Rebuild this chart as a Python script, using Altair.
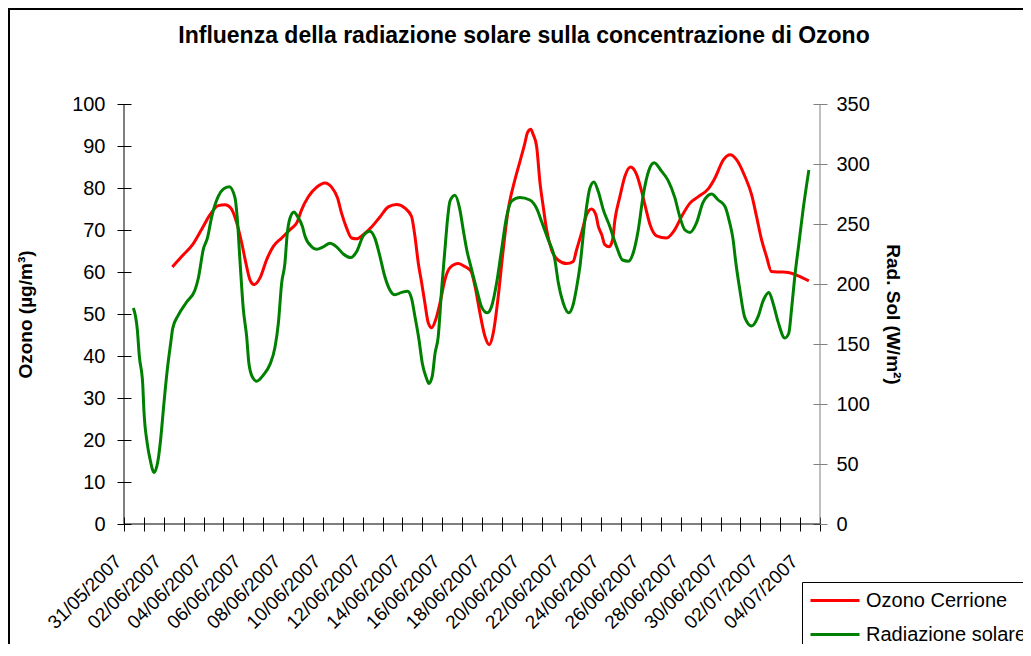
import json
import altair as alt
import pandas as pd

# ---- data (time = days since 31/05/2007 00:00) ----
DAYS_OZ = [2.43, 2.9, 3.45, 3.9, 4.32, 4.74, 5.08, 5.38, 5.67, 5.92, 6.13, 6.33, 6.54, 6.84,
           7.17, 7.51, 7.93, 8.35, 8.7, 8.93, 9.27, 9.69, 10.11, 10.44, 10.74, 10.94, 11.19,
           11.44, 11.7, 12.03, 12.45, 12.87, 13.29, 13.71, 14.13, 14.46, 14.63, 14.8, 14.97,
           15.13, 15.3, 15.47, 15.67, 15.89, 16.14, 16.39, 16.81, 17.14, 17.45, 17.65, 17.9,
           18.15, 18.37, 18.57, 18.82, 19.07, 19.32, 19.66, 19.91, 20.16, 20.29, 20.46, 20.58,
           20.75, 20.92, 21.08, 21.25, 21.5, 21.84, 22.26, 22.59, 22.76, 23.01, 23.26, 23.51,
           23.73, 23.85, 24.02, 24.18, 24.4, 24.57, 24.69, 24.94, 25.19, 25.47, 25.78, 26.03,
           26.22, 26.45, 26.78, 27.28, 27.7, 28.04, 28.46, 28.87, 29.38, 29.72, 30.14, 30.48,
           30.81, 31.22, 31.56, 31.81, 32.06, 32.31, 32.56, 33.0, 33.4, 33.9, 34.44]
OZONE = [61.2, 63.7, 66.5, 70.1, 73.6, 75.8, 76.0, 75.2, 71.7, 66.9, 62.1, 58.2, 57.0, 58.6,
         62.9, 66.1, 68.1, 70.1, 71.8, 74.8, 77.9, 80.2, 81.2, 80.2, 77.6, 74.0, 70.5,
         68.1, 67.9, 68.9, 70.7, 73.1, 75.5, 76.1, 75.2, 73.2, 68.5, 62.1, 57.4,
         52.6, 47.9, 46.7, 48.6, 52.6, 58.2, 61.0, 62.0, 61.3, 60.2, 56.6, 50.2,
         44.7, 42.7, 45.5, 54.2, 65.3, 74.8, 82.0, 86.3, 90.7, 93.2, 94.0, 92.7,
         89.9, 81.2, 75.6, 70.1, 65.3, 62.8, 62.0, 62.5, 65.3, 69.3, 73.6, 75.0,
         73.6, 70.9, 68.9, 66.5, 66.0, 67.7, 72.5, 78.0, 82.8, 85.0, 83.2, 79.2,
         75.5, 71.3, 68.6, 68.1, 70.1, 73.2, 76.4, 77.9, 79.8, 82.4, 86.7, 87.9,
         86.7, 82.8, 78.4, 73.2, 67.7, 63.7, 60.1, 60.0, 59.9, 59.1, 57.9]

DAYS_RAD = [0.47, 0.67, 0.77, 0.94, 1.0, 1.17, 1.31, 1.51, 1.73, 1.84, 2.01, 2.18, 2.35, 2.45,
            2.73, 3.15, 3.57, 3.74, 3.99, 4.19, 4.41, 4.74, 4.99, 5.29, 5.58, 5.7, 5.83, 6.0,
            6.17, 6.28, 6.47, 6.67, 7.0, 7.34, 7.59, 7.76, 7.93, 8.09, 8.21, 8.35, 8.55, 8.7,
            8.97, 9.1, 9.44, 9.69, 10.02, 10.36, 10.69, 11.03, 11.41, 11.7, 12.03, 12.37,
            12.62, 12.87, 13.12, 13.37, 13.62, 13.96, 14.26, 14.46, 14.63, 14.83, 15.0, 15.22,
            15.33, 15.5, 15.64, 15.8, 15.97, 16.14, 16.27, 16.39, 16.64, 16.89, 17.06, 17.23,
            17.45, 17.76, 17.98, 18.27, 18.48, 18.74, 18.99, 19.24, 19.49, 19.91, 20.41, 20.75,
            21.0, 21.33, 21.67, 21.84, 22.09, 22.37, 22.59, 22.76, 22.93, 23.18, 23.43, 23.63,
            23.85, 24.1, 24.43, 24.77, 25.07, 25.36, 25.61, 25.86, 26.11, 26.4, 26.66, 27.03,
            27.37, 27.7, 27.95, 28.21, 28.46, 28.79, 29.12, 29.55, 29.88, 30.21, 30.46, 30.63,
            30.75, 30.97, 31.22, 31.56, 31.89, 32.14, 32.43, 32.64, 32.9, 33.23, 33.43, 33.57,
            33.73, 33.94, 34.15, 34.44]
RADIAZIONE = [180, 162, 140, 117, 95, 67, 54, 43, 55, 70, 101, 129, 151, 163,
              174, 185, 195, 205, 229, 238, 256, 273, 279, 281, 272, 254, 220, 179,
              156, 134, 122, 119, 124, 133, 147, 167, 201, 217, 242, 255, 260, 257,
              248, 240, 231, 229, 231, 234, 231, 225, 222, 227, 240, 244,
              238, 223, 206, 195, 191, 193, 194, 188, 173, 154, 134, 121,
              117, 123, 142, 156, 195, 229, 254, 269, 274, 262, 245, 229,
              214, 194, 181, 176, 181, 201, 229, 256, 269, 272, 270, 263,
              252, 237, 220, 201, 184, 176, 183, 197, 215, 254, 280, 285,
              277, 262, 248, 231, 220, 219, 226, 245, 274, 295, 301, 294,
              286, 272, 256, 245, 243, 251, 268, 275, 270, 265, 251, 237,
              220, 195, 172, 165, 173, 186, 193, 184, 168, 155, 159, 179,
              206, 234, 262, 295]

X_LABELS = ["31/05/2007", "02/06/2007", "04/06/2007", "06/06/2007", "08/06/2007",
            "10/06/2007", "12/06/2007", "14/06/2007", "16/06/2007", "18/06/2007",
            "20/06/2007", "22/06/2007", "24/06/2007", "26/06/2007", "28/06/2007",
            "30/06/2007", "02/07/2007", "04/07/2007"]
X_TICKS = list(range(0, 36))
OZ_TICKS = list(range(0, 101, 10))
RAD_TICKS = list(range(0, 351, 50))
SERIES = ["Ozono Cerrione", "Radiazione solare"]
COLORS = ["#FF0000", "#008000"]

TITLE = "Influenza della radiazione solare sulla concentrazione di Ozono"
OZ_TITLE = "Ozono (µg/m³)"
RAD_TITLE = "Rad. Sol (W/m²)"

FONT = "Liberation Sans"
W, H = 696, 420
T = 7  # half length of the crossing tick marks

df_oz = pd.DataFrame({"giorno": DAYS_OZ, "valore": OZONE, "serie": SERIES[0]})
df_rad = pd.DataFrame({"giorno": DAYS_RAD, "valore": RADIAZIONE, "serie": SERIES[1]})

x_scale = alt.Scale(domain=[0, 35], nice=False, zero=False)
color = alt.Color(
    "serie:N",
    scale=alt.Scale(domain=SERIES, range=COLORS),
    legend=alt.Legend(
        title=None, orient="none", legendX=678, legendY=478,
        symbolType="stroke", symbolSize=2401, symbolStrokeWidth=3,
        labelFont=FONT, labelFontSize=20, labelColor="black", labelOffset=5,
        labelLimit=400, strokeColor="black", fillColor="white", padding=7,
        rowPadding=11, clipHeight=23,
    ),
)

label_expr = "datum.value % 2 == 0 ? " + json.dumps(X_LABELS) + "[datum.value / 2] : ''"

x_axis = alt.Axis(
    values=X_TICKS, labelExpr=label_expr, labelAngle=315, labelAlign="right",
    labelBaseline="middle", labelPadding=27, labelOffset=-6, labelFontSize=19,
    labelFont=FONT, labelColor="black", tickSize=2 * T, tickColor="black",
    domain=False, offset=-T, grid=False, title=None, labelOverlap=False,
    labelFlush=False,
)
x_enc = alt.X("giorno:Q", scale=x_scale, axis=x_axis)

oz_line = alt.Chart(df_oz).mark_line(strokeWidth=3, interpolate="monotone").encode(
    x=x_enc,
    y=alt.Y(
        "valore:Q",
        scale=alt.Scale(domain=[0, 100], nice=False),
        axis=alt.Axis(
            orient="left", values=OZ_TICKS, labelFontSize=20, labelFont=FONT,
            labelColor="black", labelPadding=12, tickSize=2 * T, tickColor="black",
            domain=False, offset=-T, grid=False, title=OZ_TITLE, titleFont=FONT,
            titleFontSize=19, titleFontWeight="bold", titleColor="black",
            titleAngle=270, titleX=-99 - T, titleY=210, titleBaseline="middle",
            titleAlign="center",
        ),
    ),
    color=color,
)

rad_line = alt.Chart(df_rad).mark_line(strokeWidth=3, interpolate="monotone").encode(
    x=x_enc,
    y=alt.Y(
        "valore:Q",
        scale=alt.Scale(domain=[0, 350], nice=False),
        axis=alt.Axis(
            orient="right", values=RAD_TICKS, labelFontSize=20, labelFont=FONT,
            labelColor="black", labelPadding=9, tickSize=2 * T, tickColor="#808080",
            domain=False, offset=-T, grid=False, title=RAD_TITLE, titleFont=FONT,
            titleFontSize=19, titleFontWeight="bold", titleColor="black",
            titleAngle=90, titleX=72 + T, titleY=210, titleBaseline="middle",
            titleAlign="center",
        ),
    ),
    color=color,
)

# axis lines of the plot area (left and bottom black, right grey) and chart-area frame
edge = pd.DataFrame({"a": [0]})
left_line = alt.Chart(edge).mark_rule(color="black", strokeWidth=1).encode(
    x=alt.value(0), y=alt.value(0), y2=alt.value(H))
bottom_line = alt.Chart(edge).mark_rule(color="black", strokeWidth=1).encode(
    x=alt.value(0), x2=alt.value(W), y=alt.value(H))
right_line = alt.Chart(edge).mark_rule(color="#808080", strokeWidth=1).encode(
    x=alt.value(W), y=alt.value(0), y2=alt.value(H))
frame = alt.Chart(edge).mark_rect(fillOpacity=0, stroke="black", strokeWidth=2).encode(
    x=alt.value(-115), y=alt.value(-95), x2=alt.value(1200), y2=alt.value(800))

chart = alt.layer(
    oz_line, rad_line, left_line, bottom_line, right_line, frame,
).resolve_scale(y="independent").properties(
    width=W, height=H,
    autosize=alt.AutoSizeParams(type="none"),
    padding={"left": 116, "top": 96, "right": 203, "bottom": 120},
    title=alt.Title(
        TITLE, font=FONT, fontSize=23, fontWeight="bold", color="black",
        anchor="middle", frame="group", dx=52, dy=58, offset=0, baseline="alphabetic",
    ),
).configure(font=FONT, view=alt.ViewConfig(strokeWidth=0))

chart.save("out.html", embed_options={"renderer": "svg", "actions": False})
